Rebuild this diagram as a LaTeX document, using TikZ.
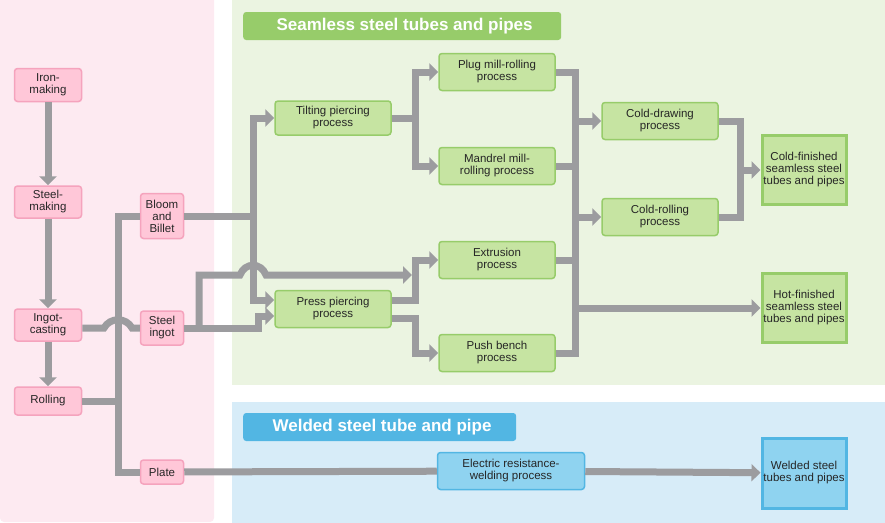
\documentclass[tikz,border=0pt]{standalone}
\usepackage{fontspec}
\setmainfont{Liberation Sans}
\usetikzlibrary{arrows.meta,calc}
\definecolor{pinkbg}{HTML}{FDEAF1}
\definecolor{pinkbox}{HTML}{FFC7D8}
\definecolor{pinkline}{HTML}{F5A3BD}
\definecolor{greenbg}{HTML}{EBF4E1}
\definecolor{greenbox}{HTML}{C6E4A2}
\definecolor{greenline}{HTML}{97CC6A}
\definecolor{bluebg}{HTML}{D7ECF8}
\definecolor{bluebox}{HTML}{8FD3F0}
\definecolor{blueline}{HTML}{52B6E3}
\definecolor{pipe}{HTML}{9C9C9F}
\tikzset{>={Triangle[length=9pt,width=17pt]}}
\tikzset{
  txt/.style={font=\fontsize{11.5}{12}\selectfont, text=black!85, align=center, inner sep=0pt},
  pinkn/.style={txt, draw=pinkline, fill=pinkbox, line width=1.5pt, rounded corners=3pt, minimum width=67pt},
  smalln/.style={pinkn, minimum width=43pt},
  procn/.style={txt, draw=greenline, fill=greenbox, line width=1.5pt, rounded corners=3pt, minimum width=116pt, minimum height=37pt},
  endn/.style={txt, draw=greenline, fill=greenbox, line width=3pt, minimum width=84pt, minimum height=69pt},
  flow/.style={draw=pipe, line width=7pt},
  title/.style={font=\bfseries\fontsize{17}{18}\selectfont, text=white, rounded corners=3pt, inner sep=0pt, minimum height=28pt}
}

\begin{document}
\begin{tikzpicture}[x=1pt,y=-1pt]
  \useasboundingbox (0,0) rectangle (885,522);
  % panels
  \fill[pinkbg, rounded corners=4pt] (0,-5) rectangle (214,522);
  \fill[greenbg] (232,-5) rectangle (890,385);
  \fill[bluebg] (232,402) rectangle (890,527);
  \node[title, fill=greenline, minimum width=318pt, anchor=west] (tseam) at (243,26) {\ Seamless steel tubes and pipes};
  \node[title, fill=blueline, minimum width=273pt, anchor=west] (tweld) at (243,427) {\ Welded steel tube and pipe};

  % left column
  \node[pinkn, minimum height=33pt] (iron) at (48,85) {Iron-\\making};
  \node[pinkn, minimum height=32pt] (steel) at (48,202) {Steel-\\making};
  \node[pinkn, minimum height=32pt] (ingot) at (48,325) {Ingot-\\casting};
  \node[pinkn, minimum height=28pt] (rolling) at (48,401) {Rolling};
  \node[smalln, minimum height=45pt] (bloom) at (162,216) {Bloom\\and\\Billet};
  \node[smalln, minimum height=34pt] (sing) at (162,328) {Steel\\ingot};
  \node[smalln, minimum height=24pt] (plate) at (162,472) {Plate};

  % seamless processes
  \node[procn, minimum height=34pt] (tilt) at (333,118) {Tilting piercing\\process};
  \node[procn] (press) at (333,309) {Press piercing\\process};
  \node[procn] (plug) at (497,72) {Plug mill-rolling\\process};
  \node[procn] (mandrel) at (497,166) {Mandrel mill-\\rolling process};
  \node[procn] (extr) at (497,260) {Extrusion\\process};
  \node[procn] (push) at (497,353) {Push bench\\process};
  \node[procn] (draw) at (660,121) {Cold-drawing\\process};
  \node[procn] (crol) at (660,217) {Cold-rolling\\process};
  \node[endn] (cold) at (804,170) {Cold-finished\\seamless steel\\tubes and pipes};
  \node[endn] (hot) at (804,308) {Hot-finished\\seamless steel\\tubes and pipes};

  % welded
  \node[procn, draw=blueline, fill=bluebox, minimum width=147pt] (erw) at (511,471) {Electric resistance-\\welding process};
  \node[endn, draw=blueline, fill=bluebox, minimum height=70pt] (weld) at (804,473) {Welded steel\\tubes and pipes};

  % steelmaking chain
  \draw[flow,->] (iron) -- (steel);
  \draw[flow,->] (steel) -- (ingot);
  \draw[flow,->] (ingot) -- (rolling);

  % rolling to semi-products
  \coordinate (trunk) at (118,401);
  \draw[flow] (rolling) -- (trunk);
  \draw[flow, line join=miter] (bloom.west) -| (trunk) |- (plate.west);
  \draw[flow] (ingot.east |- sing) -- (104,328) .. controls (110,317) and (126,317) .. (132,328) -- (sing.west);

  % bloom to piercing
  \coordinate (bsplit) at (253,216);
  \draw[flow] (bloom) -- (bsplit);
  \draw[flow,->] (bsplit) |- (tilt.west);
  \draw[flow,->] (bsplit) |- ($(press.west)+(0,-9)$);
  \draw[flow,->] (sing.east) -- (258,328) |- ($(press.west)+(0,7)$);
  \draw[flow,->] (199,328) -- (199,275) -- (240,275) .. controls (245,262) and (261,262) .. (266,275) -- (412,275);

  % piercing to rolling mills
  \draw[flow,->] ($(tilt.east)+(0,0)$) -- (415,118) |- (plug.west);
  \draw[flow,->] (415,118) |- (mandrel.west);
  \draw[flow,->] ($(press.east)+(0,-9)$) -- (415,300) |- (extr.west);
  \draw[flow,->] ($(press.east)+(0,9)$) -- (415,318) |- (push.west);

  % mills to finishing
  \draw[flow] (plug.east) -- (575,72) |- (push.east);
  \draw[flow] (mandrel.east) -- (575,166);
  \draw[flow] (extr.east) -- (575,260);
  \draw[flow,->] (575,121) -- (draw.west);
  \draw[flow,->] (575,217) -- (crol.west);
  \draw[flow,->] (575,308) -- (hot.west);
  \draw[flow] (draw.east) -- (740,121) |- (crol.east);
  \draw[flow,->] (740,170) -- (cold.west);

  % welded line
  \draw[flow] (plate) -- (erw);
  \draw[flow,->] (erw) -- (weld);
\end{tikzpicture}
\end{document}
